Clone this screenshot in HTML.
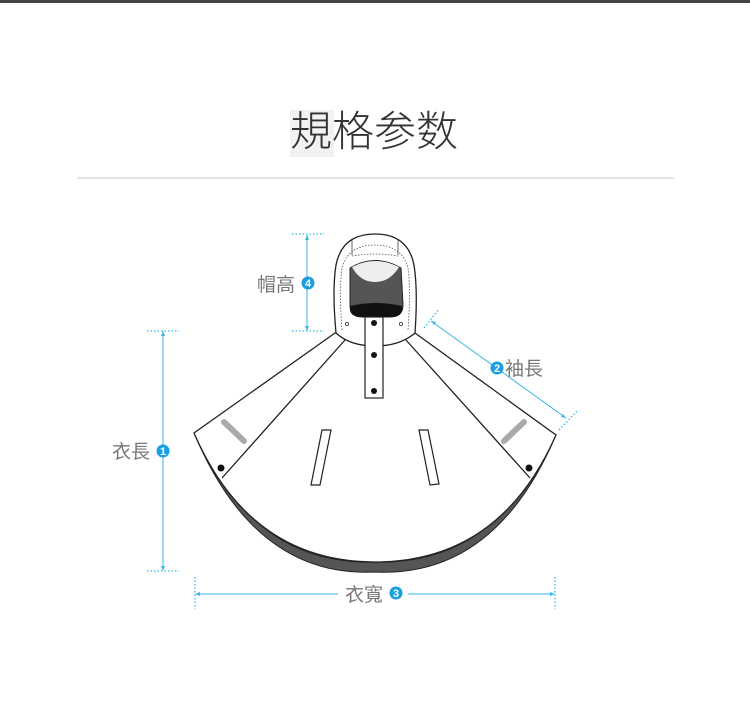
<!DOCTYPE html>
<html><head><meta charset="utf-8"><style>
html,body{margin:0;padding:0;background:#fff;}
body{width:750px;height:702px;position:relative;overflow:hidden;font-family:"Liberation Sans","Noto Sans CJK TC",sans-serif;}
.top{position:absolute;left:0;top:0;width:750px;height:3px;background:#444;}
.title{position:absolute;left:290px;top:104px;font-size:42px;color:#333;letter-spacing:0;line-height:56px;font-family:"Liberation Sans","Noto Sans CJK SC",sans-serif;font-weight:300;}
.hl{position:absolute;left:290px;top:110px;width:44px;height:47px;background:#f1f2f4;}
.rule{position:absolute;left:77px;top:177px;width:597px;height:2px;background:#dfe5e5;}
</style></head><body>
<div class="top"></div>
<div class="hl"></div>
<div class="title">規格参数</div>
<div class="rule"></div>
<svg width="750" height="702" style="position:absolute;left:0;top:0" font-family="Liberation Sans, Noto Sans CJK TC, sans-serif">
<path d="M194,433 Q255,578 375,572 Q495,578 556,435 L546,450 Q490,565 375,562 Q260,565 204,450 Z" fill="#555" stroke="#222" stroke-width="1"/>
<path d="M335,333 L194,433 Q250,562 375,562 Q500,562 556,435 L415,333 Z" fill="#fff" stroke="#222" stroke-width="1.3"/>
<line x1="345" y1="340" x2="222" y2="478" stroke="#222" stroke-width="1.3"/>
<line x1="406" y1="340" x2="530" y2="478" stroke="#222" stroke-width="1.3"/>
<line x1="224" y1="422" x2="244" y2="441" stroke="#aaa" stroke-width="6" stroke-linecap="round"/>
<line x1="524" y1="422" x2="504" y2="441" stroke="#aaa" stroke-width="6" stroke-linecap="round"/>
<circle cx="221" cy="468" r="3.5" fill="#111"/>
<circle cx="529" cy="468" r="3.5" fill="#111"/>
<polygon points="322,430 331,430 320,485 311,485" fill="#fff" stroke="#222" stroke-width="1.2"/>
<polygon points="419,430 428,430 439,484 430,485" fill="#fff" stroke="#222" stroke-width="1.2"/>
<path d="M336,333 Q332,290 336,265 Q342,234 375,234 Q408,234 414,265 Q418,290 415,333 Q400,346 375,346 Q350,346 336,333 Z" fill="#fff" stroke="#222" stroke-width="1.3"/>
<path d="M342,330 Q339,290 342,268 Q348,245 375,245 Q402,245 408,268 Q411,290 408,330" fill="none" stroke="#555" stroke-width="0.8" stroke-dasharray="1.5,1.5"/>
<line x1="352" y1="240" x2="352" y2="255" stroke="#444" stroke-width="0.8"/>
<line x1="398" y1="240" x2="398" y2="255" stroke="#444" stroke-width="0.8"/>
<path d="M352,256 Q375,252 398,256" fill="none" stroke="#555" stroke-width="0.8" stroke-dasharray="1.5,1.5"/>
<path d="M350,268 Q375,253 401,268 L403,305 Q403,317 390,317 L362,317 Q350,317 350,305 Z" fill="#555" stroke="#222" stroke-width="1"/>
<path d="M352,267 Q375,255 399,267 Q390,282 375,282 Q360,282 352,267 Z" fill="#eee"/>
<path d="M350,306 Q375,300 402,306 L402,310 Q400,317 390,317 L362,317 Q351,317 350,310 Z" fill="#111"/>
<rect x="365" y="317" width="18" height="81" fill="#fff" stroke="#222" stroke-width="1.2"/>
<circle cx="374" cy="323" r="3" fill="#111"/>
<circle cx="374" cy="355" r="3" fill="#111"/>
<circle cx="374" cy="391" r="3" fill="#111"/>
<circle cx="347" cy="324" r="1.6" fill="#fff" stroke="#333" stroke-width="0.8"/>
<circle cx="401" cy="324" r="1.6" fill="#fff" stroke="#333" stroke-width="0.8"/>
<g stroke="#38b6ea" stroke-width="1" fill="none">
<line x1="307" y1="235" x2="307" y2="331"/>
<line x1="163" y1="331" x2="163" y2="570"/>
<line x1="196" y1="594" x2="554" y2="594"/>
<line x1="431" y1="321" x2="566" y2="418"/>
</g>
<g stroke="#38b6ea" stroke-width="1.3" stroke-dasharray="1.5,2" fill="none">
<line x1="292" y1="234" x2="324" y2="234"/>
<line x1="292" y1="331" x2="324" y2="331"/>
<line x1="147" y1="331" x2="179" y2="331"/>
<line x1="147" y1="571" x2="179" y2="571"/>
<line x1="195" y1="577" x2="195" y2="609"/>
<line x1="555" y1="577" x2="555" y2="609"/>
<line x1="424" y1="328" x2="439" y2="309"/>
<line x1="559" y1="430" x2="578" y2="410"/>
</g>
<g fill="#38b6ea">
<polygon points="307,235 305,240 309,240"/><polygon points="307,331 305,326 309,326"/>
<polygon points="163,331 161,336 165,336"/><polygon points="163,571 161,566 165,566"/>
<polygon points="195,594 200,592 200,596"/><polygon points="555,594 550,592 550,596"/>
<polygon points="431,321 434,325 436,322"/><polygon points="566,418 561,417 563,414"/>
</g>
<rect x="338" y="585" width="70" height="18" fill="#fff"/>
<g fill="#777" font-size="19">
<text x="257" y="291">帽高</text>
<text x="112" y="458">衣長</text>
<text x="345" y="601">衣寬</text>
<text x="505" y="375">袖長</text>
</g>
<g font-size="11" font-weight="bold" text-anchor="middle" fill="#fff">
<circle cx="308" cy="283" r="6.5" fill="#1a9ee0"/><text x="308" y="287">4</text>
<circle cx="163" cy="451" r="6.5" fill="#1a9ee0"/><text x="163" y="455">1</text>
<circle cx="396" cy="593" r="6.5" fill="#1a9ee0"/><text x="396" y="597">3</text>
<circle cx="497" cy="368" r="6.5" fill="#1a9ee0"/><text x="497" y="372">2</text>
</g>
</svg>
</body></html>
